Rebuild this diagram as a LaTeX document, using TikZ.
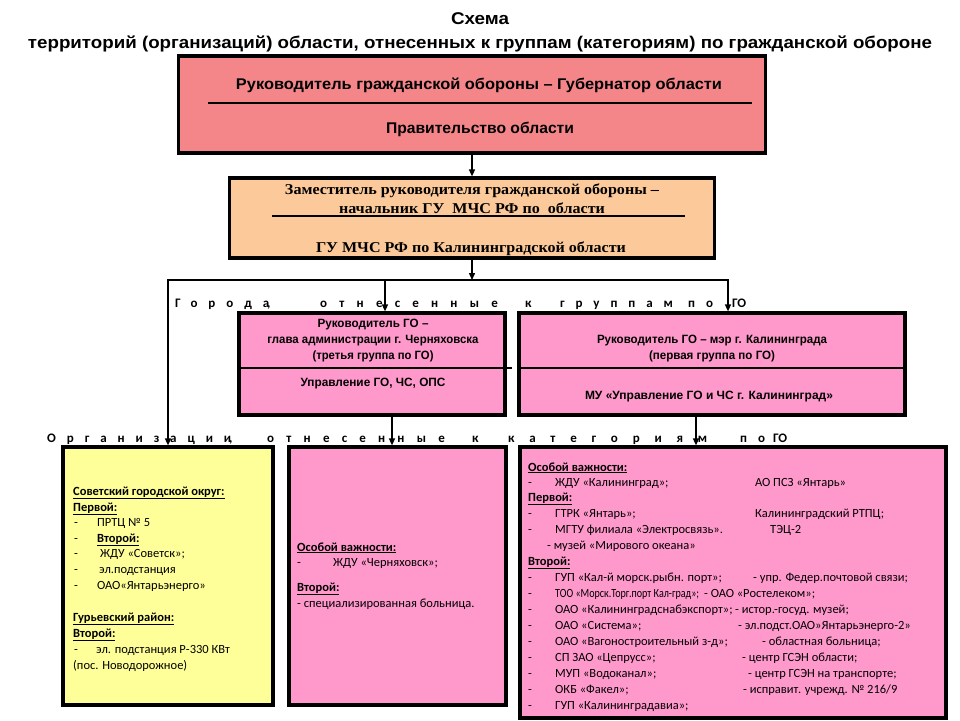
\documentclass[tikz,border=0pt]{standalone}
\usepackage{fontspec}
\usepackage{graphicx}
\usetikzlibrary{arrows.meta}
\setmainfont{Liberation Sans}
\newfontfamily\serfont{Liberation Serif}
\newfontfamily\bodyf{Carlito}
\newfontfamily\spA{Carlito}[LetterSpace=84]
\newfontfamily\spB{Carlito}[LetterSpace=94]
\newfontfamily\spC{Carlito}[LetterSpace=114]
\definecolor{boxred}{HTML}{F4868A}
\definecolor{boxpeach}{HTML}{FBC99A}
\definecolor{boxpink}{HTML}{FF99CC}
\definecolor{boxyellow}{HTML}{FFFF99}
\newcommand\fitw[3]{\resizebox{#1}{\height}{\fontsize{#2}{#2}\selectfont #3}}
\newcommand\txtline[4]{\node[txt] (#1) at (#2,#3) {#4};}
\newcommand\hd[1]{\textbf{\underline{#1}}}
\newcommand\wbox[2]{\makebox[#1][l]{#2}}
\begin{document}
\begin{tikzpicture}[x=1pt,y=-1pt,
  frame/.style={draw=black, line width=3.2pt, inner sep=0pt},
  conn/.style={line width=1.4pt},
  arr/.style={conn, -{Triangle[length=7pt,width=6pt]}},
  lbl/.style={inner sep=0pt, anchor=base},
  spaced/.style={inner sep=0pt, anchor=base west, font=\bfseries\fontsize{13pt}{13pt}\selectfont},
  txt/.style={inner sep=0pt, anchor=base west, font=\bodyf\fontsize{12.5pt}{15pt}\selectfont}]
\fill[white] (0,0) rectangle (960,720);
\useasboundingbox (0,0) rectangle (960,720);

% title
\node[lbl] (ttl) at (480,24) {\fitw{58pt}{17pt}{\bfseries Схема}};
\node[lbl] (ttl2) at (480,48) {\fitw{904pt}{17pt}{\bfseries территорий (организаций) области, отнесенных к группам (категориям) по гражданской обороне}};

% box 1
\node[frame, fill=boxred, minimum width=587pt, minimum height=97pt] (gov) at (472,104.5) {};
\node[lbl] (govA) at (479,89) {\fitw{486pt}{15.5pt}{\bfseries Руководитель гражданской обороны – Губернатор области}};
\draw[line width=1.1pt] (208,103) -- (752,103);
\node[lbl] (govB) at (480,133) {\fitw{188pt}{15.5pt}{\bfseries Правительство области}};

% box 2
\node[frame, fill=boxpeach, minimum width=485pt, minimum height=80pt] (dep) at (472,218) {};
\node[lbl] (depA) at (472,194) {\fitw{374pt}{15pt}{\serfont\bfseries Заместитель руководителя гражданской обороны –}};
\node[lbl] (depB) at (472,213) {\fitw{266pt}{15pt}{\serfont\bfseries начальник ГУ\ \ МЧС РФ по\ \ области}};
\draw[line width=1.5pt] (272,216) -- (685,216);
\node[lbl] (depC) at (471,252) {\fitw{310pt}{15pt}{\serfont\bfseries ГУ МЧС РФ по Калининградской области}};

% box 3
\node[frame, fill=boxpink, minimum width=266pt, minimum height=102pt] (chr) at (372,364) {};
\node[lbl] (chrA) at (373,327) {\fitw{111pt}{12pt}{\bfseries Руководитель ГО –}};
\node[lbl] (chrB) at (373,343) {\fitw{211pt}{12pt}{\bfseries глава администрации г. Черняховска}};
\node[lbl] (chrC) at (373,359) {\fitw{121pt}{12pt}{\bfseries (третья группа по ГО)}};
\node[lbl] (chrD) at (373,386) {\fitw{145pt}{12pt}{\bfseries Управление ГО, ЧС, ОПС}};
\draw[line width=1.8pt] (239,368) -- (512,368);

% box 4
\node[frame, fill=boxpink, minimum width=386pt, minimum height=102pt] (kal) at (712,364) {};
\node[lbl] (kalA) at (712,343) {\fitw{230pt}{12pt}{\bfseries Руководитель ГО – мэр г. Калининграда}};
\node[lbl] (kalB) at (712,359) {\fitw{126pt}{12pt}{\bfseries (первая группа по ГО)}};
\node[lbl] (kalC) at (709,399) {\fitw{248pt}{12pt}{\bfseries МУ «Управление ГО и ЧС г. Калининград»}};
\draw[line width=1.8pt] (519,368) -- (905,368);

% spaced labels
\node[spaced] (cities) at (175,307) {\wbox{145pt}{\spA Города\kern-2pt{\bodyf ,}}\wbox{205pt}{\spB отнесенные}\wbox{35pt}{\spA к}\wbox{128pt}{\spA группам}\wbox{44pt}{\spA по}{\bodyf ГО}};
\node[spaced] (orgs) at (47,442) {\wbox{220pt}{\spA Организации\kern-2pt{\bodyf ,}}\wbox{205pt}{\spB отнесенные}\wbox{36pt}{\spA к}\wbox{232pt}{\spC категориям}\wbox{33pt}{\spA по}{\bodyf ГО}};

% bottom boxes
\node[frame, fill=boxyellow, minimum width=210pt, minimum height=258pt] (yel) at (168,576) {};
\node[frame, fill=boxpink, minimum width=217pt, minimum height=258pt] (b6) at (397.5,576) {};
\node[frame, fill=boxpink, minimum width=426pt, minimum height=271pt] (b7) at (733,582.5) {};

% connectors
\draw[arr] (gov.south) -- (dep.north);
\coordinate (jc) at (472,280);
\coordinate (jl) at (168,280);
\coordinate (jm) at (385,280);
\coordinate (jr) at (728,280);
\draw[arr] (dep.south) -- (jc);
\draw[arr] (jr) -- (jl) -- (jl |- yel.north);
\draw[arr] (jl) -- (jr) -- (jr |- kal.north);
\draw[arr] (jm) -- (jm |- chr.north);
\path ([xshift=20pt]chr.south) coordinate (c3s);
\draw[arr] (c3s) -- (c3s |- b6.north);
\path ([xshift=-16pt]kal.south) coordinate (c4s);
\draw[arr] (c4s) -- (c4s |- b7.north);

% yellow box text
\txtline{y1}{73}{495}{\hd{Советский городской округ:}}
\txtline{y2}{73}{511}{\hd{Первой:}}
\txtline{y3d}{74}{526}{-}\txtline{y3}{97}{526}{ПРТЦ № 5}
\txtline{y4d}{74}{542}{-}\txtline{y4}{97}{542}{\hd{Второй:}}
\txtline{y5d}{74}{557}{-}\txtline{y5}{100}{557}{ЖДУ «Советск»;}
\txtline{y6d}{74}{573}{-}\txtline{y6}{99}{573}{эл.подстанция}
\txtline{y7d}{74}{589}{-}\txtline{y7}{97}{589}{ОАО«Янтарьэнерго»}
\txtline{y8}{73}{621}{\hd{Гурьевский район:}}
\txtline{y9}{73}{637}{\hd{Второй:}}
\txtline{y10d}{74}{653}{-}\txtline{y10}{96}{653}{эл. подстанция Р-330 КВт}
\txtline{y11}{73}{669}{(пос. Новодорожное)}

% box 6 text
\txtline{p1}{297}{551}{\hd{Особой важности:}}
\txtline{p2d}{297}{566}{-}\txtline{p2}{333}{566}{ЖДУ «Черняховск»;}
\txtline{p3}{297}{591}{\hd{Второй:}}
\txtline{p4}{297}{607}{- специализированная больница.}

% box 7 text
\txtline{k1}{528}{471}{\hd{Особой важности:}}
\txtline{k2d}{528}{486}{-}\txtline{k2}{555}{486}{ЖДУ «Калининград»;}\txtline{k2b}{755}{486}{АО ПСЗ «Янтарь»}
\txtline{k3}{528}{501}{\hd{Первой:}}
\txtline{k4d}{528}{517}{-}\txtline{k4}{555}{517}{ГТРК «Янтарь»;}\txtline{k4b}{755}{517}{Калининградский РТПЦ;}
\txtline{k5d}{528}{533}{-}\txtline{k5}{555}{533}{МГТУ филиала «Электросвязь».}\txtline{k5b}{770}{533}{ТЭЦ-2}
\txtline{k6}{547}{549}{- музей «Мирового океана»}
\txtline{k7}{528}{565}{\hd{Второй:}}
\txtline{k8d}{528}{581}{-}\txtline{k8}{555}{581}{ГУП «Кал-й морск.рыбн. порт»;}\txtline{k8b}{753}{581}{- упр. Федер.почтовой связи;}
\txtline{k9d}{528}{597}{-}\txtline{k9}{555}{597}{\resizebox{144pt}{\height}{ТОО «Морск.Торг.порт Кал-град»;}}\txtline{k9b}{704}{597}{- ОАО «Ростелеком»;}
\txtline{k10d}{528}{613}{-}\txtline{k10}{555}{613}{ОАО «Калининградснабэкспорт»;}\txtline{k10b}{735}{613}{- истор.-госуд. музей;}
\txtline{k11d}{528}{629}{-}\txtline{k11}{555}{629}{ОАО «Система»;}\txtline{k11b}{738}{629}{- эл.подст.ОАО»Янтарьэнерго-2»}
\txtline{k12d}{528}{645}{-}\txtline{k12}{555}{645}{ОАО «Вагоностроительный з-д»;}\txtline{k12b}{762}{645}{- областная больница;}
\txtline{k13d}{528}{661}{-}\txtline{k13}{555}{661}{СП ЗАО «Цепрусс»;}\txtline{k13b}{742}{661}{- центр ГСЭН области;}
\txtline{k14d}{528}{677}{-}\txtline{k14}{555}{677}{МУП «Водоканал»;}\txtline{k14b}{748}{677}{- центр ГСЭН на транспорте;}
\txtline{k15d}{528}{693}{-}\txtline{k15}{555}{693}{ОКБ «Факел»;}\txtline{k15b}{743}{693}{- исправит. учрежд. № 216/9}
\txtline{k16d}{528}{709}{-}\txtline{k16}{555}{709}{ГУП «Калининградавиа»;}
\end{tikzpicture}
\end{document}
